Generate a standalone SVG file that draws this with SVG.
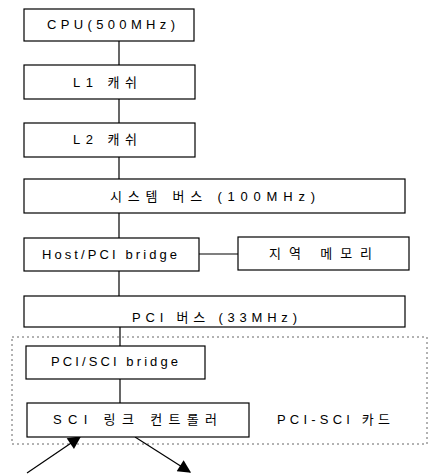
<svg xmlns="http://www.w3.org/2000/svg" width="429" height="475" viewBox="0 0 429 475">
<style>
.box{fill:#fff;stroke:#000;stroke-width:1.2}
.t{font-family:"Liberation Sans","Noto Sans CJK KR",sans-serif;font-size:13px;fill:#000}
.c{stroke:#000;stroke-width:1.2;fill:none}
.dash{stroke:#666;stroke-width:1;fill:none;stroke-dasharray:2 3}
</style>
<defs>
<marker id="ah" viewBox="0 0 10 10" refX="9" refY="5" markerWidth="15" markerHeight="13" markerUnits="userSpaceOnUse" orient="auto">
<path d="M0,0 L10,5 L0,10 Z" fill="#000"/>
</marker>
</defs>
<rect id="card" class="dash" x="12" y="337" width="415" height="107"/>
<g id="connectors">
<line class="c" x1="119" y1="41" x2="119" y2="65"/>
<line class="c" x1="119" y1="99" x2="119" y2="123"/>
<line class="c" x1="119" y1="157" x2="119" y2="179"/>
<line class="c" x1="119" y1="213" x2="119" y2="238"/>
<line class="c" x1="199" y1="254" x2="238" y2="254"/>
<line class="c" x1="119" y1="271" x2="119" y2="296"/>
<line class="c" x1="120" y1="327" x2="120" y2="346"/>
<line class="c" x1="120" y1="379" x2="120" y2="403"/>
<line class="c" x1="27" y1="473" x2="80" y2="437" marker-end="url(#ah)"/>
<line class="c" x1="135" y1="437" x2="190" y2="472" marker-end="url(#ah)"/>
</g>
<g id="cpu"><rect class="box" x="24" y="9" width="170" height="32"/><text class="t" x="47" y="29" textLength="128" lengthAdjust="spacing">CPU(500MHz)</text></g>
<g id="l1"><rect class="box" x="24" y="65" width="171" height="34"/><text class="t" x="73" y="87" textLength="64" lengthAdjust="spacing">L1 캐쉬</text></g>
<g id="l2"><rect class="box" x="24" y="123" width="171" height="34"/><text class="t" x="73" y="144" textLength="64" lengthAdjust="spacing">L2 캐쉬</text></g>
<g id="sysbus"><rect class="box" x="24" y="179" width="381" height="34"/><text class="t" x="110" y="201" textLength="205" lengthAdjust="spacing">시스템 버스 (100MHz)</text></g>
<g id="hostbridge"><rect class="box" x="24" y="238" width="175" height="33"/><text class="t" x="42" y="259" textLength="135" lengthAdjust="spacing">Host/PCI bridge</text></g>
<g id="memory"><rect class="box" x="238" y="237" width="171" height="33"/><text class="t" x="269" y="258" textLength="103" lengthAdjust="spacing">지역 메모리</text></g>
<g id="pcibus"><rect class="box" x="24" y="296" width="381" height="31"/><text class="t" x="132" y="322" textLength="165" lengthAdjust="spacing">PCI 버스 (33MHz)</text></g>
<g id="pcisci"><rect class="box" x="26" y="346" width="179" height="33"/><text class="t" x="51" y="366" textLength="127" lengthAdjust="spacing">PCI/SCI bridge</text></g>
<g id="scilink"><rect class="box" x="27" y="403" width="222" height="34"/><text class="t" x="53" y="424" textLength="164" lengthAdjust="spacing">SCI 링크 컨트롤러</text></g>
<g id="cardlabel"><text class="t" x="277" y="424" textLength="113" lengthAdjust="spacing">PCI-SCI 카드</text></g>
</svg>
